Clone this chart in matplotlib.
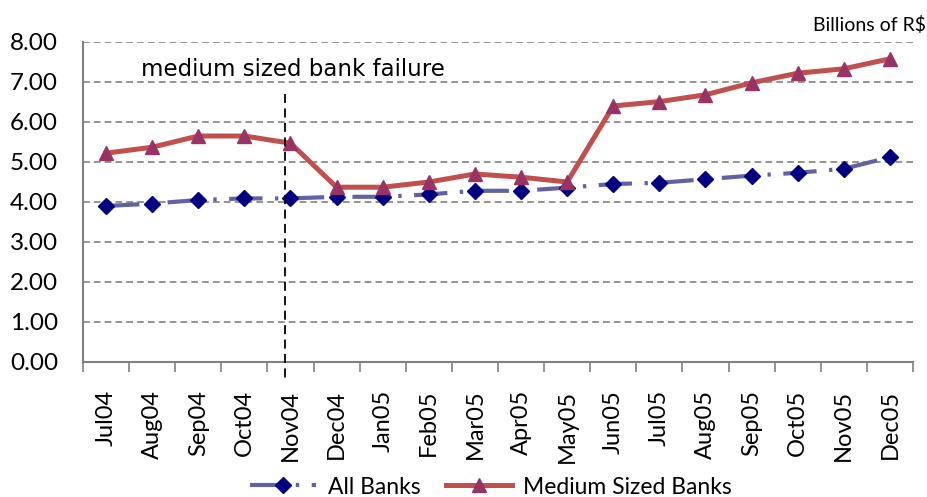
import matplotlib
matplotlib.use("Agg")
import matplotlib.pyplot as plt
from matplotlib.lines import Line2D

months = ["Jul04", "Aug04", "Sep04", "Oct04", "Nov04", "Dec04", "Jan05", "Feb05", "Mar05",
          "Apr05", "May05", "Jun05", "Jul05", "Aug05", "Sep05", "Oct05", "Nov05", "Dec05"]
all_banks = [3.90, 3.96, 4.05, 4.09, 4.09, 4.13, 4.13, 4.19, 4.28, 4.28, 4.36, 4.45, 4.48,
             4.57, 4.66, 4.73, 4.83, 5.12]
medium_banks = [5.22, 5.37, 5.65, 5.65, 5.47, 4.37, 4.37, 4.50, 4.70, 4.62, 4.50, 6.40, 6.51,
                6.68, 6.98, 7.22, 7.33, 7.58]
y_ticks = [0, 1, 2, 3, 4, 5, 6, 7, 8]
failure_pos = 3.87
annotation = "medium sized bank failure"
unit_label = "Billions of R$"

plt.rcParams['font.family'] = ['Lato', 'DejaVu Sans']

fig = plt.figure(figsize=(9.28, 4.97), dpi=100)
ax = fig.add_axes([83/928, 1 - 362/497, (913-83)/928, (362-42)/497])

x = list(range(len(months)))
ax.set_xlim(-0.5, len(months) - 0.5)
ax.set_ylim(0, 8)

for yv in y_ticks[1:]:
    ax.axhline(yv, color="#808080", lw=1.2, ls=(0, (4, 2.5)), zorder=1)

ab_style = dict(color="#6262A0", lw=3, ls=(0, (8, 3, 0.8, 3)),
                marker="D", ms=8, mfc="#000080", mec="#000080")
mb_style = dict(color="#C0504D", lw=3.6, marker="^", ms=10, mfc="#993366", mec="#993366")

ax.plot(x, all_banks, zorder=3, **ab_style)
ax.plot(x, medium_banks, zorder=4, **mb_style)

ax.plot([failure_pos, failure_pos], [6.7, -0.45], color="black", lw=1.3,
        ls=(0, (5, 3)), clip_on=False, zorder=5)

ax.text(4.05, 7.32, annotation, fontsize=16.5, family=['DejaVu Sans'], ha="center", va="center")
fig.text(926/928, 1 - 25/497, unit_label, fontsize=14, ha="right", va="center")

ax.set_yticks(y_ticks)
ax.set_yticklabels([f"{v:.2f}" for v in y_ticks], fontsize=17.5)
ax.set_xticks(x)
ax.set_xticklabels(months, rotation=90, fontsize=17)
ax.tick_params(axis="x", length=0, pad=20)
ax.tick_params(axis="y", length=0, pad=18)
ax.set_xticks([i - 0.5 for i in range(len(months) + 1)], minor=True)
ax.tick_params(axis="x", which="minor", length=7, width=1.2, color="#808080", direction="out")

for s in ["top", "right"]:
    ax.spines[s].set_visible(False)
for s in ["left", "bottom"]:
    ax.spines[s].set_color("#808080")
    ax.spines[s].set_linewidth(1.5)

handles = [Line2D([], [], **ab_style), Line2D([], [], **mb_style)]
fig.legend(handles, ["All Banks", "Medium Sized Banks"], loc="center", ncol=2,
           bbox_to_anchor=(491/928, 1 - 487/497), frameon=False, fontsize=16.5,
           handlelength=2.9, columnspacing=1.1, handletextpad=0.5)

fig.savefig("out.png", dpi=100)
